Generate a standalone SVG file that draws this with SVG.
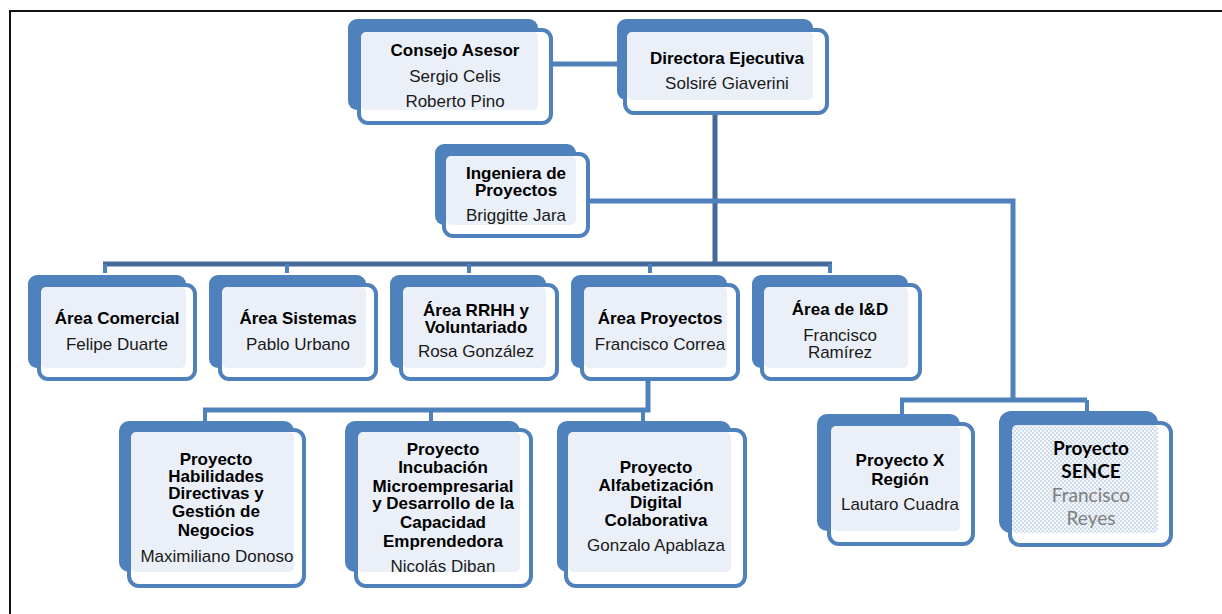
<svg xmlns="http://www.w3.org/2000/svg" width="1222" height="614" viewBox="0 0 1222 614">
<defs>
<style>
.bk{fill:#4F81BD}
.fr{fill:#fff;stroke:#4F81BD;stroke-width:4}
.in{fill:#EBF0F8}
.t{font-family:"Liberation Sans",Arial,sans-serif;font-size:17px;font-weight:bold;fill:#000;text-anchor:middle}
.n{font-family:"Liberation Sans",Arial,sans-serif;font-size:17px;fill:#1a1a1a;text-anchor:middle}
.c{fill:none;stroke:#4F81BD;stroke-width:5}
.cd{fill:none;stroke:#45699B;stroke-width:5}
.dr{fill:none;stroke:#4F81BD;stroke-width:4}
.st{font-family:Lato,"Open Sans",sans-serif;font-size:19px;font-weight:bold;fill:#000;text-anchor:middle}
.sn{font-family:Lato,"Open Sans",sans-serif;font-size:19px;fill:#7F7F7F;text-anchor:middle}
</style>
<pattern id="dots" width="4" height="4" patternUnits="userSpaceOnUse">
<rect width="4" height="4" fill="#F3F6FB"/>
<circle cx="1" cy="1" r="0.9" fill="#C2D1E6"/>
<circle cx="3" cy="3" r="0.9" fill="#C2D1E6"/>
</pattern>
</defs>
<rect width="1222" height="614" fill="#fff"/>
<g id="frame" fill="none" stroke="#111" stroke-width="2">
<path d="M10 614 V11 H1222"/>
</g>
<g id="connectors">
<path class="c" d="M553 64 H617"/>
<path class="cd" d="M715 115 V264"/>
<path class="c" d="M590 201 H1013 V402"/>
<path class="cd" d="M103 264 H832"/>
<path class="dr" d="M105 264 V273 M287 264 V273 M469 264 V273 M650 264 V273 M830 264 V273"/>
<path class="c" d="M648 381 V410 H203"/>
<path class="dr" d="M205 410 V421 M431 410 V421 M643 410 V421"/>
<path class="c" d="M900 400 H1087"/>
<path class="dr" d="M902 400 V414 M1087 400 V411"/>
</g>
<g id="consejo">
<rect class="bk" x="348" y="19" width="190" height="91" rx="9"/>
<rect class="fr" x="359" y="30" width="192" height="93" rx="9"/>
<rect class="in" x="361" y="32" width="177" height="78" rx="5"/>
<text class="t" x="455" y="56">Consejo Asesor</text>
<text class="n" x="455" y="82">Sergio Celis</text>
<text class="n" x="455" y="107">Roberto Pino</text>
</g>
<g id="directora">
<rect class="bk" x="617" y="19" width="196" height="81" rx="9"/>
<rect class="fr" x="625" y="30" width="202" height="83" rx="9"/>
<rect class="in" x="627" y="32" width="186" height="68" rx="5"/>
<text class="t" x="727" y="64">Directora Ejecutiva</text>
<text class="n" x="727" y="89">Solsiré Giaverini</text>
</g>
<g id="ingeniera">
<rect class="bk" x="435" y="144" width="141" height="81" rx="9"/>
<rect class="fr" x="444" y="154" width="144" height="82" rx="9"/>
<rect class="in" x="446" y="156" width="130" height="69" rx="5"/>
<text class="t" x="516" y="179">Ingeniera de</text>
<text class="t" x="516" y="196">Proyectos</text>
<text class="n" x="516" y="221">Briggitte Jara</text>
</g>
<g id="comercial">
<rect class="bk" x="28" y="275" width="158" height="93" rx="9"/>
<rect class="fr" x="39" y="285" width="156" height="94" rx="9"/>
<rect class="in" x="41" y="287" width="145" height="81" rx="5"/>
<text class="t" x="117" y="324">Área Comercial</text>
<text class="n" x="117" y="350">Felipe Duarte</text>
</g>
<g id="sistemas">
<rect class="bk" x="209" y="275" width="157" height="93" rx="9"/>
<rect class="fr" x="220" y="285" width="156" height="94" rx="9"/>
<rect class="in" x="222" y="287" width="144" height="81" rx="5"/>
<text class="t" x="298" y="324">Área Sistemas</text>
<text class="n" x="298" y="350">Pablo Urbano</text>
</g>
<g id="rrhh">
<rect class="bk" x="390" y="275" width="156" height="93" rx="9"/>
<rect class="fr" x="401" y="285" width="156" height="94" rx="9"/>
<rect class="in" x="403" y="287" width="143" height="81" rx="5"/>
<text class="t" x="476" y="316">Área RRHH y</text>
<text class="t" x="476" y="333">Voluntariado</text>
<text class="n" x="476" y="357">Rosa González</text>
</g>
<g id="proyectos">
<rect class="bk" x="571" y="275" width="156" height="93" rx="9"/>
<rect class="fr" x="582" y="285" width="156" height="94" rx="9"/>
<rect class="in" x="584" y="287" width="143" height="81" rx="5"/>
<text class="t" x="660" y="324">Área Proyectos</text>
<text class="n" x="660" y="350">Francisco Correa</text>
</g>
<g id="id">
<rect class="bk" x="752" y="275" width="156" height="93" rx="9"/>
<rect class="fr" x="762" y="285" width="158" height="94" rx="9"/>
<rect class="in" x="764" y="287" width="144" height="81" rx="5"/>
<text class="t" x="840" y="315">Área de I&amp;D</text>
<text class="n" x="840" y="341">Francisco</text>
<text class="n" x="840" y="358">Ramírez</text>
</g>
<g id="habilidades">
<rect class="bk" x="119" y="421" width="175" height="151" rx="10"/>
<rect class="fr" x="129" y="430" width="175" height="156" rx="10"/>
<rect class="in" x="131" y="432" width="163" height="140" rx="5"/>
<text class="t" x="216" y="465">Proyecto</text>
<text class="t" x="216" y="482">Habilidades</text>
<text class="t" x="216" y="499">Directivas y</text>
<text class="t" x="216" y="517">Gestión de</text>
<text class="t" x="216" y="536">Negocios</text>
<text class="n" x="217" y="562">Maximiliano Donoso</text>
</g>
<g id="incubacion">
<rect class="bk" x="345" y="421" width="175" height="151" rx="10"/>
<rect class="fr" x="356" y="430" width="175" height="156" rx="10"/>
<rect class="in" x="358" y="432" width="162" height="140" rx="5"/>
<text class="t" x="443" y="455">Proyecto</text>
<text class="t" x="443" y="473">Incubación</text>
<text class="t" x="443" y="492">Microempresarial</text>
<text class="t" x="443" y="509">y Desarrollo de la</text>
<text class="t" x="443" y="528">Capacidad</text>
<text class="t" x="443" y="547">Emprendedora</text>
<text class="n" x="443" y="572">Nicolás Diban</text>
</g>
<g id="alfabetizacion">
<rect class="bk" x="557" y="421" width="174" height="151" rx="10"/>
<rect class="fr" x="566" y="430" width="179" height="156" rx="10"/>
<rect class="in" x="568" y="432" width="163" height="140" rx="5"/>
<text class="t" x="656" y="473">Proyecto</text>
<text class="t" x="656" y="491">Alfabetización</text>
<text class="t" x="656" y="508">Digital</text>
<text class="t" x="656" y="526">Colaborativa</text>
<text class="n" x="656" y="551">Gonzalo Apablaza</text>
</g>
<g id="xregion">
<rect class="bk" x="817" y="414" width="143" height="117" rx="10"/>
<rect class="fr" x="829" y="424" width="144" height="120" rx="10"/>
<rect class="in" x="831" y="426" width="129" height="105" rx="5"/>
<text class="t" x="900" y="466">Proyecto X</text>
<text class="t" x="900" y="485">Región</text>
<text class="n" x="900" y="510">Lautaro Cuadra</text>
</g>
<g id="sence">
<rect class="bk" x="999" y="411" width="159" height="122" rx="12"/>
<rect class="fr" x="1010" y="423" width="161" height="122" rx="10"/>
<rect x="1012" y="425" width="146" height="108" rx="5" fill="url(#dots)"/>
<text class="st" x="1091" y="455">Proyecto</text>
<text class="st" x="1091" y="478">SENCE</text>
<text class="sn" x="1091" y="502">Francisco</text>
<text class="sn" x="1091" y="525">Reyes</text>
</g>
</svg>
